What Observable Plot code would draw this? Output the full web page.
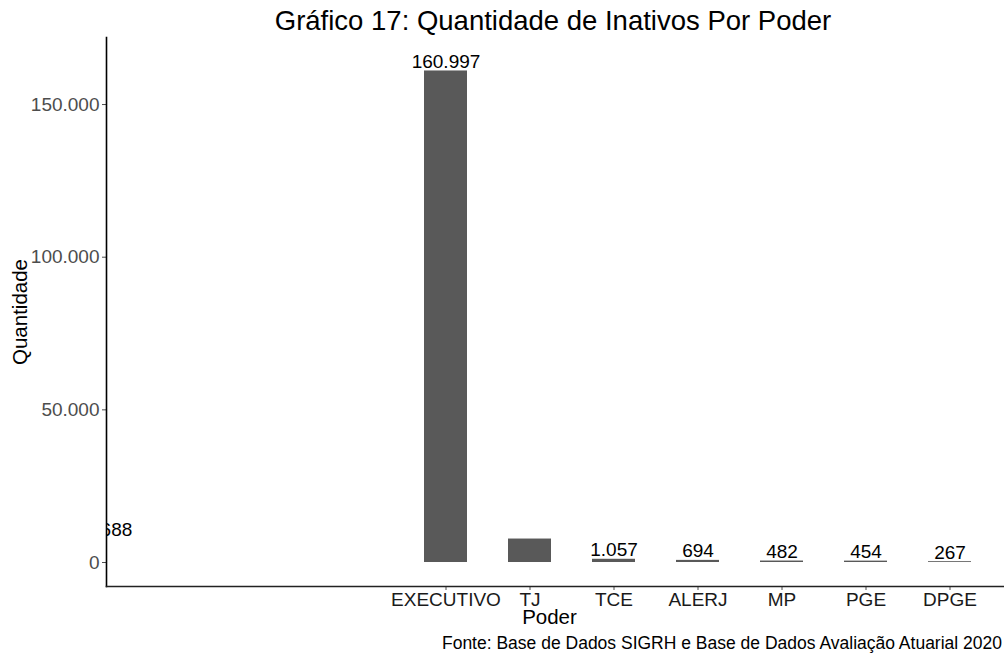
<!DOCTYPE html>
<html>
<head>
<meta charset="utf-8">
<script src="https://cdn.jsdelivr.net/npm/d3@7"></script>
<script src="https://cdn.jsdelivr.net/npm/@observablehq/plot@0.6"></script>
<style>
  html, body { margin: 0; padding: 0; background: #fff; }
  body { width: 1004px; font-family: "Liberation Sans", Arial, sans-serif; color: #000; }
  #title { box-sizing: border-box; width: 1004px; height: 36px; padding-top: 6px; padding-left: 102px;
           font-size: 27.5px; line-height: 30px; text-align: center; white-space: nowrap; }
  #caption { box-sizing: border-box; width: 1004px; padding-right: 2px; font-size: 17.5px; line-height: 22px; text-align: right; white-space: nowrap; }
  svg { display: block; }
</style>
</head>
<body>
<div id="title">Gráfico 17: Quantidade de Inativos Por Poder</div>
<div id="chart"></div>
<div id="caption">Fonte: Base de Dados SIGRH e Base de Dados Avaliação Atuarial 2020</div>
<script>
const poder = ["EXECUTIVO", "TJ", "TCE", "ALERJ", "MP", "PGE", "DPGE"];
const quantidade = [160997, 7688, 1057, 694, 482, 454, 267];
const yTicks = [0, 50000, 100000, 150000];

const data = poder.map((p, i) => ({poder: p, quantidade: quantidade[i]}));
const br = d3.formatLocale({decimal: ",", thousands: ".", grouping: [3], currency: ["R$", ""]});
const fmt = br.format(",d");

const chart = Plot.plot({
  width: 1004,
  height: 596,
  marginLeft: 106,
  marginRight: 0,
  marginTop: 1,
  marginBottom: 46,
  style: {fontFamily: "'Liberation Sans', Arial, sans-serif", background: "#fff"},
  x: {domain: poder, range: [401.75, 993.25], paddingInner: 0.49, paddingOuter: 0.245, label: null},
  y: {domain: [-7860, 171960], label: null},
  marks: [
    Plot.barY(data, {x: "poder", y: "quantidade", fill: "#595959"}),
    Plot.text(data.filter(d => d.poder !== "TJ"), {x: "poder", y: "quantidade", text: d => fmt(d.quantidade), dy: -9, fontSize: 19, fill: "#000"}),
    Plot.text(data.filter(d => d.poder === "TJ"), {y: "quantidade", text: d => fmt(d.quantidade), frameAnchor: "left", textAnchor: "middle", dx: 2, dy: -9, fontSize: 19, fill: "#000", clip: "frame"}),
    Plot.axisY({ticks: yTicks, tickFormat: fmt, tickSize: 4, tickPadding: 3, fontSize: 19, fill: "#4d4d4d", stroke: "#4d4d4d", label: null}),
    Plot.axisX({tickSize: 4, tickPadding: 2, fontSize: 19, fill: "#1a1a1a", stroke: "#4d4d4d", label: null}),
    Plot.frame({anchor: "left", stroke: "#000", strokeWidth: 1.6}),
    Plot.frame({anchor: "bottom", stroke: "#222", strokeWidth: 1.6}),
    Plot.text(["Quantidade"], {frameAnchor: "left", textAnchor: "middle", dx: -86, rotate: -90, fontSize: 20.5, fill: "#000"}),
    Plot.text(["Poder"], {frameAnchor: "bottom", dx: -6, dy: 37, fontSize: 20.5, fill: "#000"})
  ]
});
document.getElementById("chart").appendChild(chart);
</script>
</body>
</html>
